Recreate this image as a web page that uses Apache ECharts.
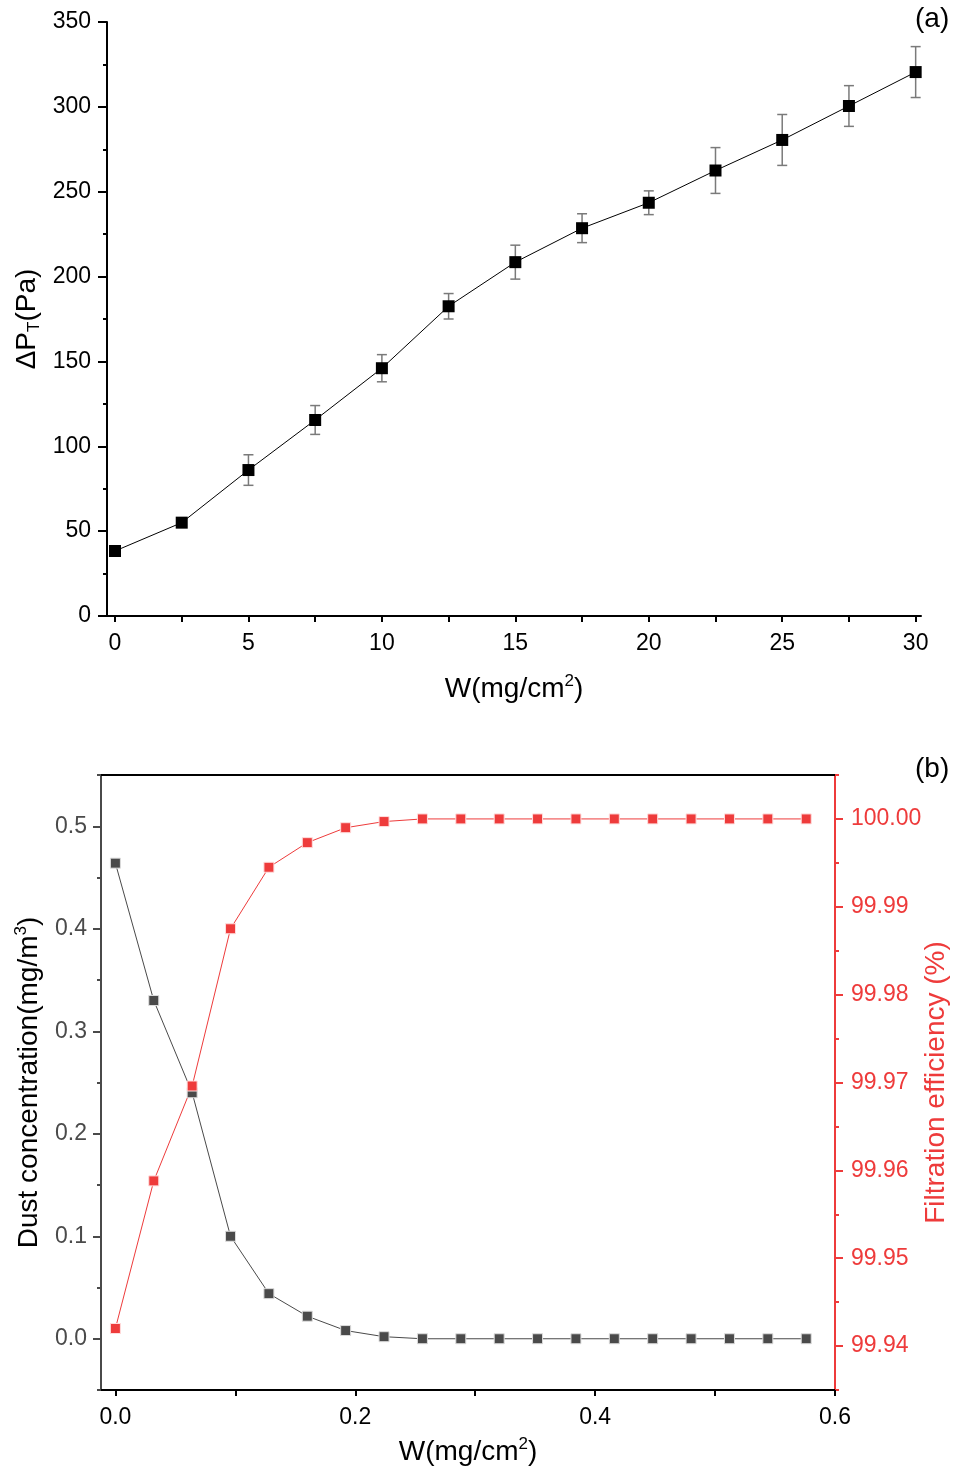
<!DOCTYPE html>
<html>
<head>
<meta charset="utf-8">
<script src="https://cdn.jsdelivr.net/npm/echarts@6/dist/echarts.min.js"></script>
<style>
html,body{margin:0;padding:0;background:#fff;}
#main{width:964px;height:1471px;}
</style>
</head>
<body>
<div id="main"></div>
<script>
// (a) pressure drop vs dust load
let wTop = [0, 2.5, 5, 7.5, 10, 12.5, 15, 17.5, 20, 22.5, 25, 27.5, 30]
let dpT = [38.3, 55, 86, 115.5, 146, 182.5, 208.5, 228.5, 243.5, 262.5, 280.5, 300.5, 320.5]
let dpErr = [2, 2, 9, 8.5, 8, 7.5, 10, 8.5, 7, 13.5, 15, 12, 15]
let topXTicks = [0, 2.5, 5, 7.5, 10, 12.5, 15, 17.5, 20, 22.5, 25, 27.5, 30]
let topXLabels = [0, 5, 10, 15, 20, 25, 30]

// (b) dust concentration and filtration efficiency
let wBot = [0, 0.032, 0.064, 0.096, 0.128, 0.16, 0.192, 0.224, 0.256, 0.288, 0.32, 0.352, 0.384, 0.416, 0.448, 0.48, 0.512, 0.544, 0.576]
let dust = [0.464, 0.330, 0.240, 0.100, 0.044, 0.022, 0.008, 0.002, 0, 0, 0, 0, 0, 0, 0, 0, 0, 0, 0]
let eff = [99.942, 99.9588, 99.9696, 99.9875, 99.9945, 99.9973, 99.9990, 99.9997, 100, 100, 100, 100, 100, 100, 100, 100, 100, 100, 100]
let botXTicks = [0, 0.1, 0.2, 0.3, 0.4, 0.5, 0.6]
let botXLabels = [0, 0.2, 0.4, 0.6]
let dustLabels = [0, 0.1, 0.2, 0.3, 0.4, 0.5]
let dustMinor = [-0.05, 0.05, 0.15, 0.25, 0.35, 0.45, 0.55]
let effLabels = [99.94, 99.95, 99.96, 99.97, 99.98, 99.99, 100.00]
let effMinor = [99.935, 99.945, 99.955, 99.965, 99.975, 99.985, 99.995, 100.005]

let font = "'Liberation Sans', Arial, sans-serif"
let red = "#ee3b3b"
let grey = "#4a4a4a"
let tickFont = 23

let pts = wTop.map((x, i) => [x, dpT[i]])
let errs = wTop.map((x, i) => [x, dpT[i] - dpErr[i], dpT[i] + dpErr[i]])

function nameRich(color){
    return {
        m: {fontSize: 28, fontFamily: font, color: color, lineHeight: 32},
        s: {fontSize: 17, fontFamily: font, color: color, lineHeight: 16, verticalAlign: 'bottom'},
        p: {fontSize: 17, fontFamily: font, color: color, lineHeight: 16, verticalAlign: 'top'}
    }
}

var myChart = echarts.init(document.getElementById('main'))

var option = {
    backgroundColor: '#fff',
    animation: false,
    graphic: [
        {type: 'text', left: 915, top: 5, style: {text: '(a)', font: '28px ' + font, fill: '#000'}},
        {type: 'text', left: 915, top: 755, style: {text: '(b)', font: '28px ' + font, fill: '#000'}}
    ],
    grid: [
        {left: 107, right: 43, top: 22, bottom: 855},
        {left: 101, right: 129, top: 775, bottom: 81}
    ],
    xAxis: [
        {
            gridIndex: 0, type: 'value', min: -0.3, max: 30.2,
            name: '{m|W(mg/cm}{p|2}{m|)}', nameLocation: 'middle', nameGap: 57, nameMoveOverlap: false,
            nameTextStyle: {rich: nameRich('#000')},
            axisLine: {onZero: false, lineStyle: {color: '#000', width: 2}},
            axisTick: {customValues: topXTicks, length: 6, lineStyle: {color: '#000', width: 2}},
            axisLabel: {customValues: topXLabels, fontSize: tickFont, fontFamily: font, color: '#000', margin: 16},
            splitLine: {show: false}
        },
        {
            gridIndex: 1, type: 'value', min: -0.012, max: 0.6,
            name: '{m|W(mg/cm}{p|2}{m|)}', nameLocation: 'middle', nameGap: 46, nameMoveOverlap: false,
            nameTextStyle: {rich: nameRich('#000')},
            axisLine: {onZero: false, lineStyle: {color: '#000', width: 2}},
            axisTick: {customValues: botXTicks, length: 6, lineStyle: {color: '#000', width: 2}},
            axisLabel: {customValues: botXLabels, fontSize: tickFont, fontFamily: font, color: '#000', margin: 16,
                formatter: v => v.toFixed(1)},
            splitLine: {show: false}
        },
        {
            gridIndex: 1, type: 'value', position: 'top', min: -0.012, max: 0.6,
            axisLine: {onZero: false, lineStyle: {color: '#000', width: 2}},
            axisTick: {show: false}, axisLabel: {show: false}, splitLine: {show: false}
        }
    ],
    yAxis: [
        {
            gridIndex: 0, type: 'value', min: 0, max: 350, interval: 50,
            name: '{m|ΔP}{s|T}{m|(Pa)}', nameLocation: 'middle', nameGap: 64, nameMoveOverlap: false,
            nameTextStyle: {rich: nameRich('#000')},
            axisLine: {show: true, onZero: false, lineStyle: {color: '#000', width: 2}},
            axisTick: {length: 9, lineStyle: {color: '#000', width: 2}},
            minorTick: {show: true, splitNumber: 2, length: 4, lineStyle: {color: '#000', width: 2}},
            axisLabel: {fontSize: tickFont, fontFamily: font, color: '#000', margin: 16},
            splitLine: {show: false}
        },
        {
            gridIndex: 1, type: 'value', min: -0.05, max: 0.55,
            name: '{m|Dust concentration(mg/m}{p|3}{m|)}', nameLocation: 'middle', nameGap: 56, nameMoveOverlap: false,
            nameTextStyle: {rich: nameRich('#000')},
            axisLine: {show: true, onZero: false, lineStyle: {color: grey, width: 2}},
            axisTick: {customValues: dustLabels, length: 8, lineStyle: {color: grey, width: 2}},
            axisLabel: {customValues: dustLabels, fontSize: tickFont, fontFamily: font, color: grey, margin: 14,
                formatter: v => v.toFixed(1)},
            splitLine: {show: false}
        },
        {
            gridIndex: 1, type: 'value', position: 'right', min: 99.935, max: 100.005,
            name: 'Filtration efficiency (%)', nameLocation: 'middle', nameGap: 87, nameRotate: 90, nameMoveOverlap: false,
            nameTextStyle: {fontSize: 28, fontFamily: font, color: red},
            axisLine: {show: true, onZero: false, lineStyle: {color: red, width: 2}},
            axisTick: {customValues: effLabels, length: 8, lineStyle: {color: red, width: 2}},
            axisLabel: {customValues: effLabels, fontSize: tickFont, fontFamily: font, color: red, margin: 16,
                formatter: v => v.toFixed(2)},
            splitLine: {show: false}
        },
        {
            gridIndex: 1, type: 'value', position: 'left', min: -0.05, max: 0.55,
            axisLine: {show: false, onZero: false},
            axisTick: {customValues: dustMinor, length: 4, lineStyle: {color: grey, width: 2}},
            axisLabel: {show: false}, splitLine: {show: false}
        },
        {
            gridIndex: 1, type: 'value', position: 'right', min: 99.935, max: 100.005,
            axisLine: {show: false, onZero: false},
            axisTick: {customValues: effMinor, length: 4, lineStyle: {color: red, width: 2}},
            axisLabel: {show: false}, splitLine: {show: false}
        }
    ],
    series: [
        {
            type: 'custom', xAxisIndex: 0, yAxisIndex: 0, data: errs, z: 1,
            renderItem: function(params, api){
                let x = api.value(0)
                let lo = api.coord([x, api.value(1)])
                let hi = api.coord([x, api.value(2)])
                let w = 5
                let st = {stroke: '#7a7a7a', lineWidth: 1.5}
                return {type: 'group', children: [
                    {type: 'line', shape: {x1: lo[0], y1: lo[1], x2: hi[0], y2: hi[1]}, style: st},
                    {type: 'line', shape: {x1: lo[0] - w, y1: lo[1], x2: lo[0] + w, y2: lo[1]}, style: st},
                    {type: 'line', shape: {x1: hi[0] - w, y1: hi[1], x2: hi[0] + w, y2: hi[1]}, style: st}
                ]}
            }
        },
        {
            type: 'line', xAxisIndex: 0, yAxisIndex: 0, data: pts, z: 3,
            symbol: 'rect', symbolSize: 12,
            lineStyle: {color: '#000', width: 1},
            itemStyle: {color: '#000'}
        },
        {
            type: 'line', xAxisIndex: 1, yAxisIndex: 1,
            data: wBot.map((x, i) => [x, dust[i]]),
            symbol: 'rect', symbolSize: 10,
            lineStyle: {color: grey, width: 1},
            itemStyle: {color: grey, borderColor: '#ddd', borderWidth: 1}
        },
        {
            type: 'line', xAxisIndex: 1, yAxisIndex: 2,
            data: wBot.map((x, i) => [x, eff[i]]),
            symbol: 'rect', symbolSize: 10,
            lineStyle: {color: red, width: 1},
            itemStyle: {color: red, borderColor: '#fdd', borderWidth: 1}
        }
    ]
}

myChart.setOption(option)
</script>
</body>
</html>
